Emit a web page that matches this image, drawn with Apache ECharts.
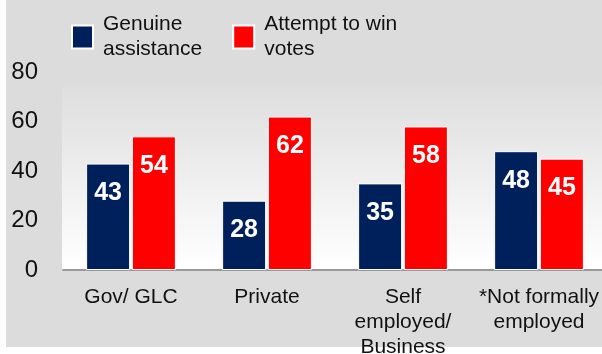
<!DOCTYPE html>
<html>
<head>
<meta charset="utf-8">
<script src="https://cdn.jsdelivr.net/npm/echarts@6/dist/echarts.min.js"></script>
<style>
  html, body { margin: 0; padding: 0; background: #fff; }
  #chart { width: 602px; height: 354px; }
</style>
</head>
<body>
<div id="chart"></div>
<script>
const categories = ['Gov/ GLC', 'Private', 'Self\nemployed/\nBusiness', '*Not formally\nemployed'];
const genuine = [43, 28, 35, 48];
const attempt = [54, 62, 58, 45];
const seriesNames = ['Genuine\nassistance', 'Attempt to win\nvotes'];
const colors = ['#00205c', '#ff0000'];

const chart = echarts.init(document.getElementById('chart'), null, { renderer: 'canvas' });

const font = 'Arial, "Liberation Sans", sans-serif';

function barSeries(name, data, color) {
    return {
        name: name,
        type: 'bar',
        data: data,
        barGap: '4%',
        barCategoryGap: '34%',
        itemStyle: { color: color, borderColor: '#fff', borderWidth: 1 },
        label: {
            show: true,
            position: 'insideTop',
            distance: 17,
            color: '#fff',
            fontWeight: 'bold',
            fontSize: 25,
            fontFamily: font
        },
        z: 3
    };
}

chart.setOption({
    backgroundColor: '#fff',
    animation: false,
    graphic: [
        {
            // 灰色背景
            type: 'rect', z: -10, silent: true,
            shape: { x: 6, y: 0, width: 596, height: 347 },
            style: { fill: '#dcdcdc' }
        },
        {
            // 绘图区渐变
            type: 'rect', z: -9, silent: true,
            shape: { x: 62, y: 86, width: 540, height: 184 },
            style: {
                fill: new echarts.graphic.LinearGradient(0, 0, 0, 1, [
                    { offset: 0, color: '#dedede' },
                    { offset: 1, color: '#ffffff' }
                ])
            }
        }
    ],
    legend: {
        left: 66,
        top: 7,
        icon: 'rect',
        itemWidth: 21,
        itemHeight: 23,
        itemGap: 30,
        itemStyle: { borderColor: '#fff', borderWidth: 2 },
        textStyle: { fontSize: 21, lineHeight: 25, color: '#111', fontFamily: font, padding: [0, 0, 0, 5] },
        data: seriesNames
    },
    grid: { left: 63, right: -5, top: 72, bottom: 84, outerBoundsMode: 'none' },
    xAxis: {
        type: 'category',
        data: categories,
        axisTick: { show: false },
        axisLine: { lineStyle: { color: '#999', width: 2 } },
        axisLabel: {
            interval: 0,
            margin: 15,
            fontSize: 21,
            lineHeight: 25,
            color: '#111',
            fontFamily: font
        }
    },
    yAxis: {
        type: 'value',
        min: 0,
        max: 80,
        interval: 20,
        splitLine: { show: false },
        axisLine: { show: false },
        axisTick: { show: false },
        axisLabel: { margin: 25, fontSize: 24, color: '#111', fontFamily: font }
    },
    series: [
        barSeries(seriesNames[0], genuine, colors[0]),
        barSeries(seriesNames[1], attempt, colors[1])
    ]
});
</script>
</body>
</html>
